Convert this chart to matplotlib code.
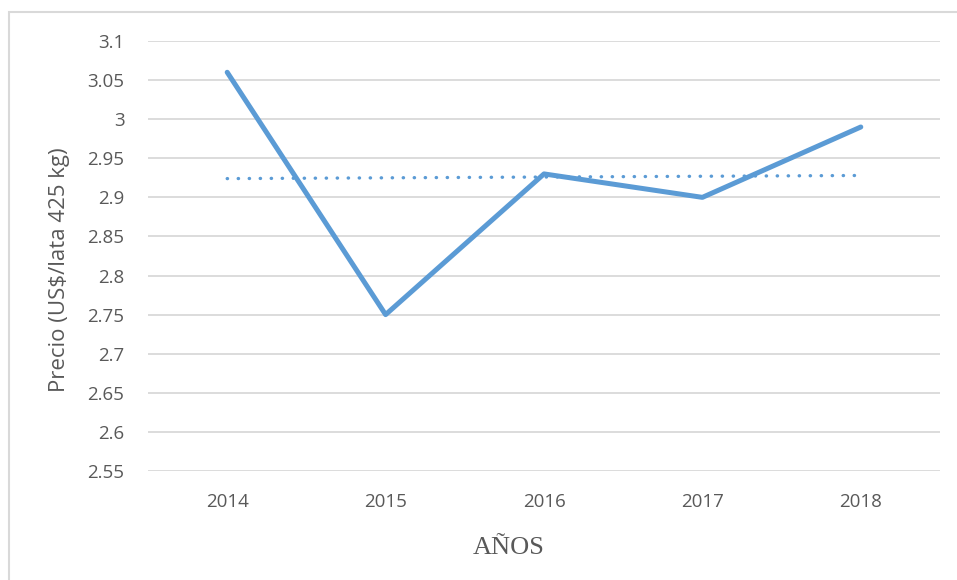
import numpy as np
import matplotlib.pyplot as plt
from matplotlib.patches import Rectangle

# precio por año
years = ['2014', '2015', '2016', '2017', '2018']
precio = [3.06, 2.75, 2.93, 2.90, 2.99]
# linea de tendencia (lineal), extremos
trend = [2.924, 2.928]

yticks = [2.55, 2.6, 2.65, 2.7, 2.75, 2.8, 2.85, 2.9, 2.95, 3.0, 3.05, 3.1]
ytick_labels = ['2.55', '2.6', '2.65', '2.7', '2.75', '2.8', '2.85', '2.9',
                '2.95', '3', '3.05', '3.1']

blue = '#5B9BD5'
gray = '#595959'
sans = ['Open Sans', 'DejaVu Sans']

fig = plt.figure(figsize=(9.57, 5.8), dpi=100)
# marco del grafico
fig.patches.append(Rectangle((9 / 957, -0.1), 1.2, 1 - 12 / 580 + 0.1,
                             transform=fig.transFigure, fill=False,
                             edgecolor='#D9D9D9', linewidth=1.5))

ax = fig.add_axes([148 / 957, 1 - 471 / 580, 792 / 957, 430 / 580])
x = np.arange(len(years))
ax.plot(x, precio, color=blue, linewidth=3.6, solid_capstyle='round',
        solid_joinstyle='round', zorder=3)
ax.plot([x[0], x[-1]], trend, color=blue, linewidth=2.4,
        linestyle=(0, (0.1, 3.2)), dash_capstyle='round', zorder=2)

ax.set_xlim(-0.5, len(years) - 0.5)
ax.set_ylim(2.55, 3.1)
ax.set_yticks(yticks)
ax.set_yticklabels(ytick_labels, family=sans, fontsize=13.5, color=gray)
ax.set_xticks(x)
ax.set_xticklabels(years, family=sans, fontsize=13.5, color=gray)
ax.tick_params(axis='both', length=0)
ax.tick_params(axis='y', pad=17)
ax.tick_params(axis='x', pad=16)
ax.grid(axis='y', color='#D9D9D9', linewidth=1.3)
ax.set_axisbelow(True)
for s in ax.spines.values():
    s.set_visible(False)

fig.text(60 / 957, 1 - 270 / 580, 'Precio (US$/lata 425 kg)', family=sans,
         fontsize=16, color=gray, rotation=90, ha='center', va='center')
fig.text(509 / 957, 1 - 548 / 580, 'AÑOS', family='Liberation Serif',
         fontsize=19, color=gray, ha='center', va='center')

fig.savefig('out.png', dpi=100)
